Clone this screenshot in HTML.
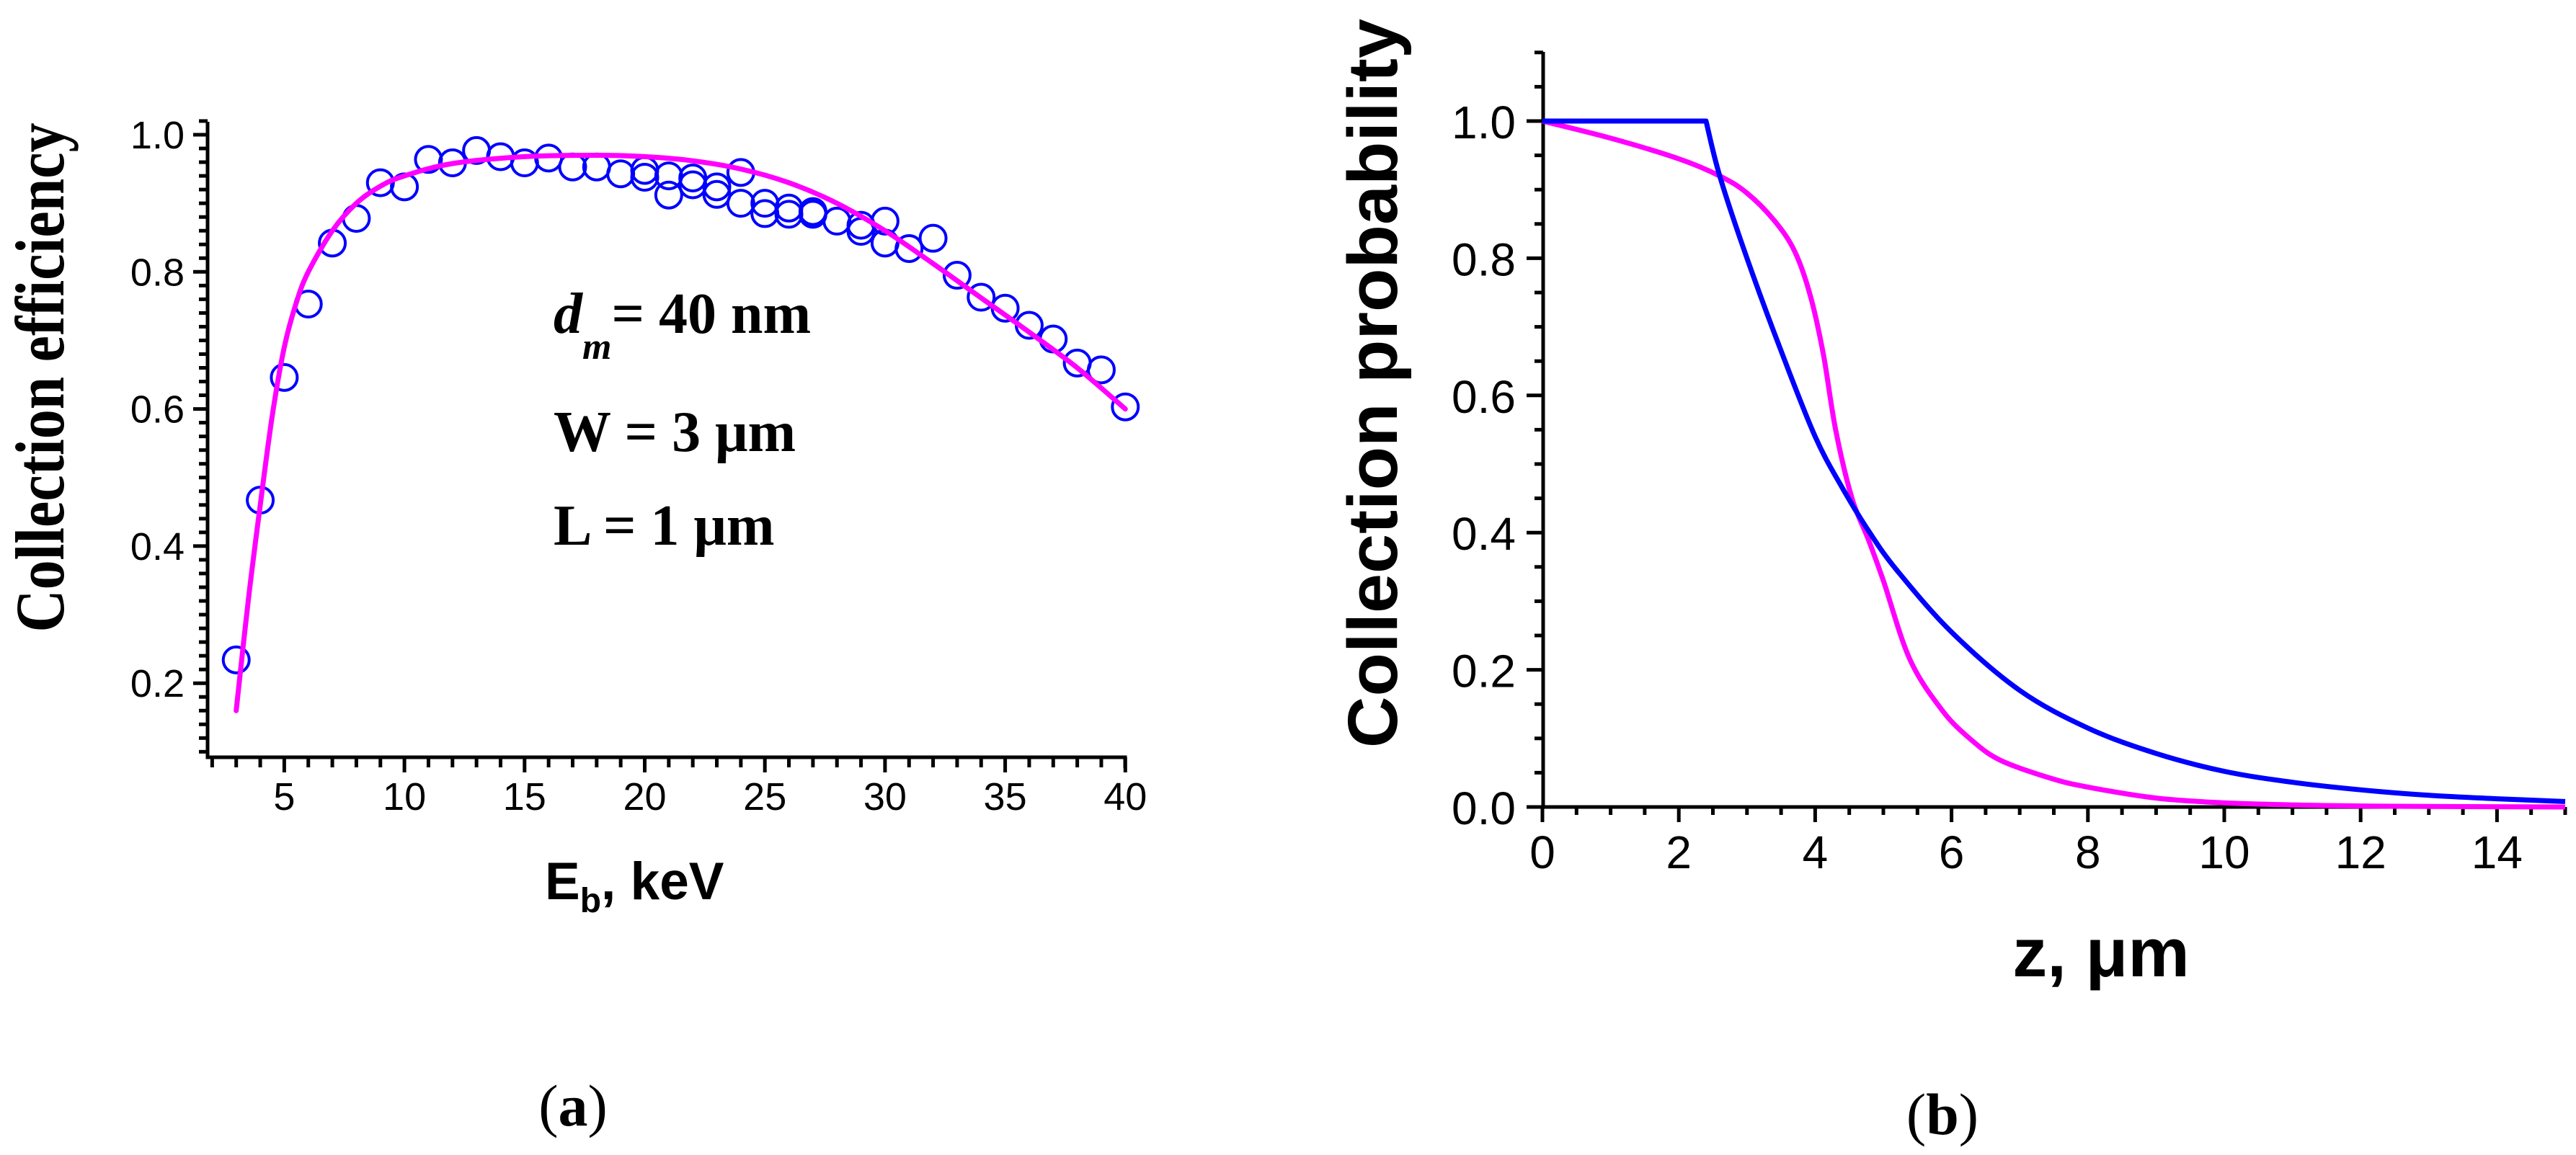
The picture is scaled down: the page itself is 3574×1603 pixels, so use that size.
<!DOCTYPE html>
<html><head><meta charset="utf-8"><style>
html,body{margin:0;padding:0;background:#fff;}
svg{display:block;}
</style></head><body>
<svg id="fig" width="3574" height="1603" viewBox="0 0 3574 1603" xmlns="http://www.w3.org/2000/svg">
<rect width="3574" height="1603" fill="#fff"/>
<g id="chartA"></g>
<g id="chartB"></g>

<text x="0" y="0" transform="translate(88,524) rotate(-90)" text-anchor="middle" font-family="Liberation Serif, serif" font-weight="bold" font-size="96" textLength="707" lengthAdjust="spacingAndGlyphs">Collection efficiency</text>
<text x="756" y="1248" font-family="Liberation Sans, sans-serif" font-weight="bold" font-size="73">E<tspan font-size="48" dy="18">b</tspan><tspan dy="-18">, keV</tspan></text>
<g font-family="Liberation Serif, serif" font-weight="bold" font-size="80">
<text x="768" y="462"><tspan font-style="italic">d</tspan><tspan font-style="italic" font-size="52" dy="36">m</tspan><tspan dy="-36">= 40 nm</tspan></text>
<text x="768" y="626">W = 3 μm</text>
<text x="768" y="756">L = 1 μm</text>
</g>
<text x="795" y="1562" text-anchor="middle" font-family="Liberation Serif, serif" font-size="82">(<tspan font-weight="bold">a</tspan>)</text>

<text x="0" y="0" transform="translate(1938,532) rotate(-90)" text-anchor="middle" font-family="Liberation Sans, sans-serif" font-weight="bold" font-size="97" textLength="1012" lengthAdjust="spacingAndGlyphs">Collection probability</text>
<text x="2915" y="1355" text-anchor="middle" font-family="Liberation Sans, sans-serif" font-weight="bold" font-size="96">z, μm</text>
<text x="2695" y="1574" text-anchor="middle" font-family="Liberation Serif, serif" font-size="82">(<tspan font-weight="bold">b</tspan>)</text>
</svg>
<script>
// ---- Chart (a) data ----
const aPointX = [3,4,5,6,7,8,9,10,11,12,13,14,15,16,17,18,19,20,20,21,21,22,22,23,23,24,24,25,25,26,26,27,27,28,29,29,30,30,31,32,33,34,35,36,37,38,39,40];
const aPointY = [0.234,0.467,0.646,0.753,0.842,0.878,0.930,0.924,0.964,0.959,0.977,0.968,0.959,0.966,0.953,0.953,0.943,0.948,0.938,0.940,0.912,0.937,0.927,0.924,0.913,0.945,0.900,0.900,0.885,0.893,0.884,0.888,0.884,0.874,0.868,0.859,0.874,0.842,0.834,0.849,0.795,0.763,0.747,0.722,0.702,0.667,0.657,0.603];
const aFitX = [3,3.5,4,4.5,5,5.5,6,7,8,9,10,12,15,18,20,22,24,26,28,30,32,34,36,38,40];
const aFitY = [0.16,0.32,0.46,0.59,0.69,0.755,0.80,0.86,0.90,0.925,0.94,0.958,0.968,0.970,0.968,0.962,0.950,0.930,0.900,0.860,0.812,0.762,0.712,0.660,0.600];
const aXTicks = [5,10,15,20,25,30,35,40];
const aXTickLabels = ["5","10","15","20","25","30","35","40"];
const aYTicks = [0.2,0.4,0.6,0.8,1.0];
const aYTickLabels = ["0.2","0.4","0.6","0.8","1.0"];

// ---- Chart (b) data ----
const bBlueX = [2.4,2.6,3,3.5,4,4.4,4.8,5.2,6,7,8,9,10,11,12,13,14,15];
const bBlueY = [1.0,0.92,0.80,0.665,0.54,0.465,0.40,0.345,0.255,0.17,0.115,0.078,0.052,0.036,0.025,0.017,0.012,0.008];
const bMagX = [0,1,2,2.6,3,3.4,3.7,3.93,4.12,4.3,4.54,4.78,5.0,5.39,5.87,6.3,6.72,7.45,8,9,10,11,12,13,15];
const bMagY = [1.0,0.975,0.945,0.92,0.895,0.855,0.81,0.745,0.66,0.55,0.45,0.39,0.33,0.215,0.14,0.097,0.068,0.042,0.029,0.013,0.006,0.003,0.0015,0.0007,0];
const bXTicks = [0,2,4,6,8,10,12,14];
const bXTickLabels = ["0","2","4","6","8","10","12","14"];
const bYTicks = [0,0.2,0.4,0.6,0.8,1.0];
const bYTickLabels = ["0.0","0.2","0.4","0.6","0.8","1.0"];

const NS = "http://www.w3.org/2000/svg";
function mk(parent, tag, attrs){ const e=document.createElementNS(NS,tag); for(const k in attrs) e.setAttribute(k,attrs[k]); parent.appendChild(e); return e; }

// axis functions
const aX = v => 394.4 + (v-5)*33.34;
const aY = v => 187 + (1.0-v)*951.5;
const bX = v => 2140 + v*94.6;
const bY = v => 1120 - v*952;

function smoothPath(xs, ys, fx, fy, start){
  const p = xs.map((x,i)=>[fx(x), fy(ys[i])]);
  let d = start || ("M"+p[0][0].toFixed(1)+","+p[0][1].toFixed(1));
  if(start) d += " L"+p[0][0].toFixed(1)+","+p[0][1].toFixed(1);
  for(let i=0;i<p.length-1;i++){
    const p0=p[Math.max(0,i-1)], p1=p[i], p2=p[i+1], p3=p[Math.min(p.length-1,i+2)];
    const c1x=p1[0]+(p2[0]-p0[0])/6, c1y=p1[1]+(p2[1]-p0[1])/6;
    const c2x=p2[0]-(p3[0]-p1[0])/6, c2y=p2[1]-(p3[1]-p1[1])/6;
    d+=" C"+c1x.toFixed(1)+","+c1y.toFixed(1)+" "+c2x.toFixed(1)+","+c2y.toFixed(1)+" "+p2[0].toFixed(1)+","+p2[1].toFixed(1);
  }
  return d;
}

// ---------- Chart A ----------
const gA = document.getElementById('chartA');
const axA = mk(gA,'g',{});


const ya = mk(axA,'path',{d:"M288,169 L288,1051 L1561,1051 L1561,1066",stroke:"#000","stroke-width":5,fill:"none"});


for(let k=0;k<=46;k++){
  const v = 0.1 + k*0.02; if(v>1.021) break;
  const y=aY(v); const r=Math.round(v*100); const major = r%20===0;
  const t=mk(axA,'line',{x1:major?268:276,x2:288,y1:y,y2:y,stroke:"#000","stroke-width":5});
  
  
}
for(let v=2;v<=40;v++){
  const x=aX(v); const major=v%5===0;
  const t=mk(axA,'line',{x1:x,x2:x,y1:1051,y2:major?1072:1065,stroke:"#000","stroke-width":5});
  
  
}
aYTicks.forEach((v,i)=>{
  const t=mk(axA,'text',{x:256,y:aY(v)+19,"text-anchor":"end","font-family":"Liberation Sans, sans-serif","font-size":54});
  t.textContent=aYTickLabels[i];
  
  
});
aXTicks.forEach((v,i)=>{
  const t=mk(axA,'text',{x:aX(v),y:1124,"text-anchor":"middle","font-family":"Liberation Sans, sans-serif","font-size":54});
  t.textContent=aXTickLabels[i];
  
  
});
const ptsA = mk(gA,'g',{});


aPointX.forEach((x,i)=>{
  const c=mk(ptsA,'circle',{cx:aX(x),cy:aY(aPointY[i]),r:18,fill:"none",stroke:"#0000ff","stroke-width":4});
  
  
});
const fitA = mk(gA,'path',{d:smoothPath(aFitX,aFitY,aX,aY),fill:"none",stroke:"#ff00ff","stroke-width":7,"stroke-linecap":"round"});



// ---------- Chart B ----------
const gB = document.getElementById('chartB');
const axB = mk(gB,'g',{});


const ab = mk(axB,'path',{d:"M2141,72 L2141,1120 L3558,1120",stroke:"#000","stroke-width":5,fill:"none"});


for(let k=0;k<=22;k++){
  const v=k*0.05; const y=bY(v); const major=k%4===0;
  const t=mk(axB,'line',{x1:major?2118:2129,x2:2141,y1:y,y2:y,stroke:"#000","stroke-width":5});
  
  
}
for(let k=0;k<=30;k++){
  const v=k*0.5; const x=bX(v); const major=k%4===0;
  const t=mk(axB,'line',{x1:x,x2:x,y1:1120,y2:major?1141:1131,stroke:"#000","stroke-width":5});
  
  
}
bYTicks.forEach((v,i)=>{
  const t=mk(axB,'text',{x:2103,y:bY(v)+24,"text-anchor":"end","font-family":"Liberation Sans, sans-serif","font-size":64});
  t.textContent=bYTickLabels[i];
  
  
});
bXTicks.forEach((v,i)=>{
  const t=mk(axB,'text',{x:bX(v),y:1205,"text-anchor":"middle","font-family":"Liberation Sans, sans-serif","font-size":64});
  t.textContent=bXTickLabels[i];
  
  
});
const magB = mk(gB,'path',{d:smoothPath(bMagX,bMagY,bX,bY),fill:"none",stroke:"#ff00ff","stroke-width":7});


const blueB = mk(gB,'path',{d:smoothPath(bBlueX,bBlueY,bX,bY,"M"+bX(0)+","+bY(1.0)),fill:"none",stroke:"#0000ff","stroke-width":7,"stroke-linejoin":"round"});


</script>
</body></html>
